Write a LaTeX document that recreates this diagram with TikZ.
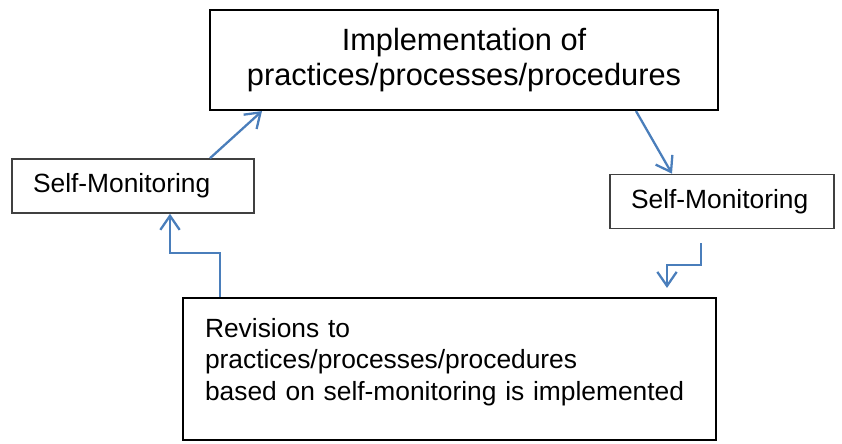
\documentclass[tikz,border=0pt]{standalone}
\usepackage{fontspec}
\setmainfont{Liberation Sans}
\usetikzlibrary{arrows.meta,calc}
\definecolor{linkblue}{RGB}{74,126,187}

\tikzset{
  txt/.style={font=\fontsize{15}{18}\selectfont},
  mainbox/.style={txt, draw=black, line width=1.2pt},
  monbox/.style={txt, draw=black!75, line width=0.9pt, align=left,
    inner xsep=0.42cm, minimum height=1.08cm},
  flow/.style={draw=linkblue, line width=1.3pt,
    -{Straight Barb[length=8pt,width=11pt]}}
}

\begin{document}
\begin{tikzpicture}[x=0.02cm,y=-0.02cm]
  \useasboundingbox (0,0) rectangle (842,443);

  \node[mainbox, align=center, minimum width=10.16cm, minimum height=2cm,
    font=\fontsize{17.5}{20}\selectfont]
    (impl) at (464,60) {Implementation of\\practices/processes/procedures};
  \node[monbox, text width=4.0cm] (monl) at (133,186) {Self-Monitoring};
  \node[monbox, text width=3.64cm] (monr) at (722,201.5) {Self-Monitoring};
  \node[mainbox, align=left, text width=9.78cm, inner xsep=0.44cm,
    minimum height=2.84cm, text depth=47pt] (rev) at (449.5,369)
    {Revisions to\\
    practices/processes/procedures\\
    based on self-monitoring is implemented};

  \coordinate (r1) at ($(monr.south -| 701,0)+(0,14)$);
  \coordinate (r2) at ($(rev.north -| 667,0)+(0,-9)$);

  \draw[flow] (monl.north -| 210,0) -- (impl.south -| 262,0);
  \draw[flow] (impl.south -| 636,0) -- (monr.north -| 672,0);
  \draw[flow] (r1) -- ++(0,22) -| (r2);
  \draw[flow] (rev.north -| 220,0) -- ++(0,-44) -| (monl.south -| 170,0);

\end{tikzpicture}
\end{document}
